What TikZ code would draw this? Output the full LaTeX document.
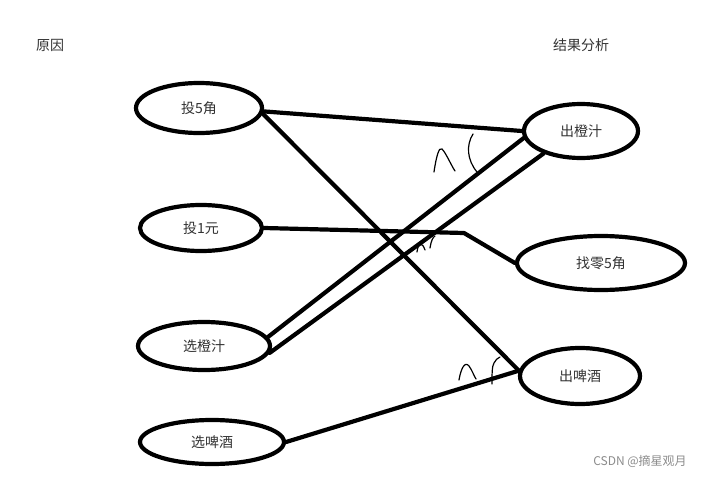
\documentclass[tikz,border=0pt]{standalone}
\usepackage{fontspec}
\newfontfamily\cjk{Noto Sans CJK SC}
\usetikzlibrary{shapes.geometric}
\begin{document}
\begin{tikzpicture}[x=1pt,y=-1pt,
  oval/.style={ellipse,draw=black,line width=4.2pt,inner sep=0pt,font=\cjk\fontsize{14}{14}\selectfont,text=black!80},
  link/.style={line width=4.2pt,line cap=round,line join=round},
  scribble/.style={line width=1.2pt,line cap=round},
  title/.style={font=\cjk\fontsize{14}{14}\selectfont,text=black!80}]
\useasboundingbox[fill=white] (0,0) rectangle (710,479);
\node[title] (t1) at (50,45) {原因};
\node[title] (t2) at (581,45) {结果分析};
\node[oval,minimum width=126pt,minimum height=50pt] (a1) at (199,108) {投5角};
\node[oval,minimum width=122pt,minimum height=46pt] (a2) at (201,228) {投1元};
\node[oval,minimum width=132pt,minimum height=48pt] (a3) at (204,346) {选橙汁};
\node[oval,minimum width=144pt,minimum height=44pt] (a4) at (212,442) {选啤酒};
\node[oval,minimum width=114pt,minimum height=54pt] (b1) at (581,131) {出橙汁};
\node[oval,minimum width=168pt,minimum height=54pt] (b2) at (601,263) {找零5角};
\node[oval,minimum width=120pt,minimum height=56pt] (b3) at (580,376) {出啤酒};
\coordinate (bend) at (464,233);
\draw[link] (a1.-3) -- (b1.west);
\draw[link] (a1.-5) -- (b3.175);
\draw[link] (a2.east) -- (bend) -- (b2.west);
\draw[link] (a3.8) -- (b1.187);
\draw[link] (a3.-6) -- (b1.211);
\draw[link] (a4.east) -- (b3.175);
% handwritten marks
\draw[scribble] (434,172) .. controls (436,158) and (439,146) .. (442,149) .. controls (446,153) and (451,165) .. (455,171);
\draw[scribble] (473,134) .. controls (466,145) and (467,160) .. (477,172);
\draw[scribble] (417,252) .. controls (418,243) and (422,241) .. (425,250);
\draw[scribble] (430,248) .. controls (431,241) and (433,237) .. (435,236);
\draw[scribble] (459,380) .. controls (461,368) and (465,361) .. (469,366) .. controls (472,370) and (474,376) .. (476,379);
\draw[scribble] (492,384) .. controls (492,374) and (492,366) .. (494,363) .. controls (495,360) and (498,358) .. (500,357);
\node[font=\cjk\fontsize{12}{12}\selectfont,text=black!45] (wm) at (640,461) {CSDN @摘星观月};
\end{tikzpicture}
\end{document}
